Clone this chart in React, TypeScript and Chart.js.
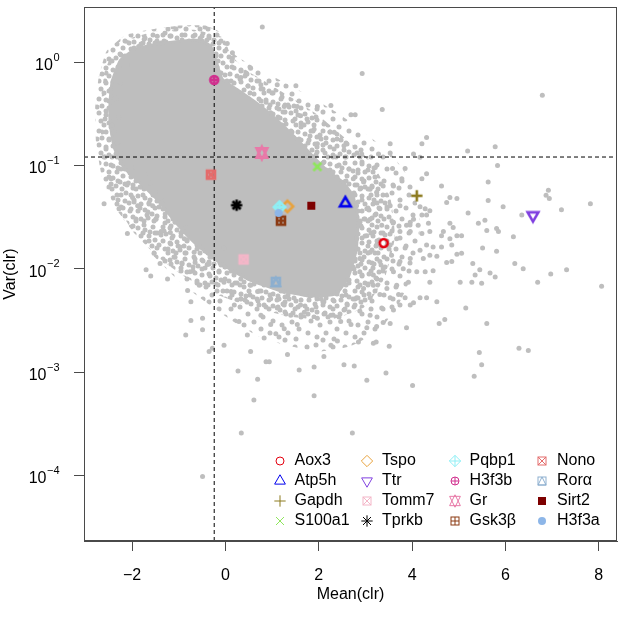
import React, { useEffect, useRef } from "react";
import { Chart, registerables } from "chart.js";

Chart.register(...registerables);

const FONT = '"Liberation Sans", Arial, Helvetica, sans-serif';

// ---- axes ----
const xTicks = [-2, 0, 2, 4, 6, 8];
const yTicks = [1e-4, 1e-3, 1e-2, 1e-1, 1];
const xMin = -3.03;
const xMax = 8.39;
const yMin = 2.32e-5;
const yMax = 3.41;
const xTitle = "Mean(clr)";
const yTitle = "Var(clr)";

// ---- threshold lines ----
const meanCut = -0.24;
const varCut = 0.1205;

// ---- highlighted genes ----
const genes = ["Aox3", "Atp5h", "Gapdh", "S100a1", "Tspo", "Ttr", "Tomm7", "Tprkb", "Pqbp1", "H3f3b", "Gr", "Gsk3β", "Nono", "Rorα", "Sirt2", "H3f3a"];
const geneMean = [3.39, 2.57, 4.1, 1.97, 1.33, 6.59, 0.39, 0.24, 1.16, -0.24, 0.78, 1.19, -0.31, 1.08, 1.84, 1.14];
const geneVar = [0.0177, 0.0431, 0.0508, 0.0971, 0.0401, 0.0328, 0.0123, 0.0412, 0.0395, 0.671, 0.132, 0.0292, 0.0814, 0.00745, 0.0407, 0.0346];
const geneColors = ["#E3000F", "#0000EE", "#8C7A1E", "#8EE65C", "#E8A23C", "#8040E0", "#F4B6C8", "#000000", "#8EEFF5", "#D12F8E", "#E879A8", "#8B3A13", "#E46C6C", "#8DAFCF", "#7D0000", "#8DB6E8"];
const geneShapes = ["circle", "triUp", "plus", "cross", "diamond", "triDown", "squareX", "asterisk", "diamondPlus", "circlePlus", "starDavid", "squarePlus", "squareX", "squareTri", "squareFill", "circleFill"];

// ---- background genes: [mean(clr), log10 var(clr)] ----
// outline of the solid, densest part of the cloud
const coreOutline: [number, number][] = [
  [-2.43, -0.186], [-2.25, 0.016], [-1.93, 0.122], [-1.5, 0.17], [-1.01, 0.199], [-0.58, 0.209], [-0.33, 0.161], [-0.2, 0.007], [-0.07, -0.166], [0.27, -0.272],
  [0.64, -0.388], [0.96, -0.503], [1.26, -0.628], [1.56, -0.763], [1.86, -0.907], [2.16, -1.041], [2.5, -1.157], [2.73, -1.291], [2.84, -1.532], [2.8, -1.82],
  [2.63, -2.08], [2.37, -2.243], [1.81, -2.263], [1.13, -2.205], [0.53, -2.109], [0.06, -1.993], [-0.37, -1.859], [-0.76, -1.705], [-1.1, -1.532], [-1.44, -1.339],
  [-1.83, -1.166], [-2.17, -1.022], [-2.38, -0.83], [-2.47, -0.589], [-2.47, -0.368], [-2.43, -0.186],
];

// outline of the densely speckled ring around the core
const innerHaloOutline: [number, number][] = [
  [-2.72, -0.157], [-2.55, 0.103], [-2.15, 0.257], [-1.61, 0.314], [-0.97, 0.353], [-0.43, 0.353], [-0.07, 0.276], [0.1, 0.084], [0.42, -0.07], [0.91, -0.205],
  [1.43, -0.349], [1.98, -0.513], [2.56, -0.734], [3.14, -0.974], [3.53, -1.311], [3.63, -1.695], [3.42, -2.08], [2.99, -2.368], [2.24, -2.493], [1.39, -2.464],
  [0.53, -2.368], [-0.22, -2.243], [-0.86, -2.08], [-1.44, -1.888], [-1.93, -1.666], [-2.36, -1.407], [-2.64, -1.118], [-2.77, -0.782], [-2.79, -0.445], [-2.72, -0.157],
];

// outline of the sparser, medium-density part of the cloud
const outerHaloOutline: [number, number][] = [
  [-2.6, -0.11], [-2.43, 0.08], [-2.04, 0.23], [-1.4, 0.3], [-0.65, 0.31], [-0.07, 0.24], [0.23, 0.06], [0.7, -0.07], [1.28, -0.2], [1.92, -0.36],
  [2.46, -0.51], [2.93, -0.67], [3.53, -0.88], [4.0, -1.17], [4.17, -1.55], [4.06, -1.98], [3.74, -2.32], [3.31, -2.59], [2.67, -2.75], [2.03, -2.8],
  [1.39, -2.75], [0.74, -2.66], [0.1, -2.49], [-0.43, -2.32], [-0.97, -2.13], [-1.51, -1.89], [-1.93, -1.67], [-2.3, -1.41], [-2.55, -1.12], [-2.66, -0.73],
  [-2.66, -0.4], [-2.6, -0.11],
];

const bgUpper: [number, number][] = [
  [0.79, 0.34], [0.04, 0.18], [0.15, 0.09], [0.15, 0.04], [0.54, -0.06], [0.44, -0.11], [0.33, -0.15], [0.76, -0.22], [1.11, -0.22], [1.51, -0.23],
  [0.87, -0.39], [1.26, -0.43], [1.54, -0.43], [1.97, -0.43], [2.26, -0.42], [0.97, -0.49], [1.61, -0.52], [1.9, -0.65], [2.33, -0.68], [2.69, -0.51],
  [2.54, -0.81], [1.97, -0.79], [-1.46, 0.25], [-1.74, 0.22], [-2.17, -0.04], [-2.35, -0.36], [-2.45, -0.52], [-2.38, -0.68], [-2.31, -0.78],
  [-0.69, 0.25], [-0.54, 0.23], [-0.4, 0.21], [-1.86, 0.15], [-2.25, -0.2], [-2.36, -0.35], [-2.43, -0.61], [-2.11, -0.03], [-2.29, -0.54],
];

const bgLowerLeft: [number, number][] = [
  [-2.45, -1.13], [-2.45, -1.18], [-2.6, -1.37], [-2.28, -1.42], [-1.99, -1.31], [-1.88, -1.39], [-2.1, -1.66], [-1.56, -1.39], [-1.49, -1.52], [-1.38, -1.64],
  [-1.53, -1.85], [-1.17, -1.76], [-1.7, -2.01], [-0.88, -1.71], [-0.67, -1.84], [-0.39, -1.96], [-0.03, -1.8],
  [-2.25, -0.88], [-2.15, -0.97], [-1.93, -1.02], [-1.72, -1.09], [-1.61, -1.17], [-2.08, -1.17], [-1.83, -1.21], [-1.51, -1.26], [-1.29, -1.34],
  [-1.66, -1.45], [-1.29, -1.47], [-1.08, -1.55], [-1.18, -1.65], [-0.86, -1.6], [-0.97, -1.79], [-0.54, -1.79], [-0.33, -1.89], [-0.65, -1.94],
  [-0.01, -1.98], [0.21, -2.03], [-1.08, -1.89], [-1.4, -1.95], [-0.76, -2.03],
  [-1.6, -2.07], [-1.24, -2.1], [-0.81, -2.21], [-0.56, -2.16], [-0.74, -2.32], [-0.49, -2.48], [-0.74, -2.5], [-0.85, -2.64], [-0.49, -2.59],
  [-0.35, -2.8], [-0.28, -2.77], [-0.03, -2.74], [0.12, -2.22], [0.19, -2.35], [0.29, -2.51], [0.47, -2.64], [0.54, -2.8], [0.87, -2.9], [0.94, -2.9],
  [0.27, -2.99], [0.69, -3.07], [0.61, -3.27], [0.34, -3.59], [-0.49, -4.01],
];

const bgCentre: [number, number][] = [
  [1.33, -2.83], [1.58, -2.98], [1.9, -2.95], [2.11, -2.85], [1.9, -3.23], [0.83, -2.67], [1.08, -2.63], [1.26, -2.58], [1.54, -2.54], [0.97, -2.54],
  [0.76, -2.45], [1.11, -2.38], [1.4, -2.45], [1.69, -2.42], [1.97, -2.48], [2.26, -2.45], [2.47, -2.51], [2.69, -2.54], [2.4, -2.7], [2.54, -2.93],
  [2.26, -2.74], [2.72, -3.59], [-0.03, -2.13], [0.33, -2.1], [0.54, -2.16], [0.69, -2.22], [0.97, -2.29], [1.26, -2.22], [1.83, -2.26], [2.11, -2.32],
  [2.4, -2.22], [2.61, -2.35], [1.61, -2.35], [1.26, -2.35], [0.83, -2.35], [0.33, -2.29],
  [2.74, -1.13], [2.96, -1.16], [3.1, -1.23], [3.24, -1.26], [3.38, -1.2], [3.6, -1.2], [3.78, -1.13], [2.81, -1.39], [3.03, -1.42], [3.31, -1.42],
  [3.53, -1.39], [3.74, -1.39], [2.88, -1.55], [3.1, -1.52], [3.35, -1.58], [3.6, -1.55], [3.74, -1.64], [2.81, -1.71], [3.03, -1.68], [3.24, -1.77],
  [3.53, -1.77], [3.67, -1.71], [3.85, -1.8], [2.88, -1.9], [3.1, -1.84], [3.31, -1.93], [3.56, -1.87], [3.74, -1.93], [3.96, -1.9], [2.88, -2.03],
  [3.17, -2.06], [3.38, -2.0], [3.6, -2.03], [3.81, -2.0], [2.96, -2.19], [3.17, -2.16], [3.46, -2.19], [3.67, -2.16], [3.92, -2.13], [2.81, -2.28],
  [3.1, -2.28], [3.31, -2.25], [3.53, -2.28], [3.74, -2.35], [2.88, -2.41], [3.1, -2.45], [3.35, -2.38], [3.6, -2.4],
];

const bgRight: [number, number][] = [
  [2.93, -0.11], [6.79, -0.32], [2.78, -0.51], [3.36, -0.46], [3.53, -0.79], [4.31, -0.73], [4.21, -0.79], [5.19, -0.86], [5.78, -0.82], [2.92, -0.89],
  [3.28, -0.89], [3.53, -0.88], [4.03, -0.89], [4.17, -0.92], [5.83, -1.0], [3.21, -1.02], [3.58, -1.03], [3.85, -1.03], [4.31, -1.08], [4.21, -1.13],
  [5.63, -1.16], [4.63, -1.2], [6.92, -1.24], [6.87, -1.29], [6.94, -1.32], [4.81, -1.31], [4.96, -1.32], [4.74, -1.36], [5.63, -1.34], [5.95, -1.4],
  [7.2, -1.43], [7.82, -1.37], [6.35, -1.48], [5.2, -1.46], [4.38, -1.44], [4.28, -1.42], [4.17, -1.4], [5.42, -1.56], [5.56, -1.53], [5.6, -1.63],
  [5.81, -1.61], [5.85, -1.64], [6.17, -1.69], [4.81, -1.56], [4.88, -1.6], [4.67, -1.64], [4.63, -1.68], [4.96, -1.68], [5.06, -1.68], [5.51, -1.8],
  [5.81, -1.83], [4.81, -1.71], [4.85, -1.77], [5.06, -1.85], [4.96, -1.86], [4.74, -1.94], [4.85, -1.93], [5.3, -1.95], [6.2, -1.95], [6.38, -2.0],
  [7.31, -2.01], [6.69, -2.13], [6.97, -2.05], [8.06, -2.17], [5.45, -2.01], [5.67, -2.04], [5.78, -2.08], [5.28, -2.13], [5.49, -2.14], [5.35, -2.06],
  [5.03, -2.13], [5.15, -2.38], [5.6, -2.53], [4.7, -2.49], [4.58, -2.53], [6.29, -2.77], [6.49, -2.79], [5.44, -2.81], [5.49, -2.93], [5.33, -3.04],
  [4.01, -3.13], [3.44, -3.01], [3.03, -3.08], [2.76, -2.94], [3.51, -2.75], [3.23, -2.71], [3.88, -2.57], [3.03, -2.57], [3.24, -2.56], [3.38, -2.52],
  [3.53, -2.53], [2.85, -2.71], [3.17, -2.72], [4.53, -2.32], [4.31, -2.28], [4.17, -2.28], [4.03, -2.33], [3.96, -2.35], [3.85, -2.28], [3.71, -2.25],
  [4.38, -2.13], [4.45, -2.02], [4.28, -2.03], [4.1, -2.03], [4.53, -1.88], [4.38, -1.87], [4.24, -1.9], [4.63, -1.79], [4.45, -1.79], [4.31, -1.77],
  [4.17, -1.82], [4.38, -1.64], [4.21, -1.66], [3.96, -1.64], [4.35, -1.56], [4.13, -1.58], [3.96, -1.55], [4.31, -1.48], [4.21, -1.48], [4.03, -1.52],
  [3.88, -1.58],
];

// ---------------------------------------------------------------------------
const TRC0 = 1.555;
const TRC1 = 1.347;
const TRC2 = 0.778;

function makeMarker(shape: string, color: string, r: number, lw: number): HTMLCanvasElement {
  let size = Math.ceil(2 * (1.6 * r + lw) + 2);
  if (size % 2) size += 1;
  const c = document.createElement("canvas");
  c.width = size;
  c.height = size;
  const ctx = c.getContext("2d")!;
  ctx.translate(size / 2, size / 2);
  ctx.strokeStyle = color;
  ctx.fillStyle = color;
  ctx.lineWidth = lw;
  ctx.lineJoin = "miter";
  const line = (x1: number, y1: number, x2: number, y2: number) => {
    ctx.beginPath();
    ctx.moveTo(x1, y1);
    ctx.lineTo(x2, y2);
    ctx.stroke();
  };
  const poly = (pts: number[][]) => {
    ctx.beginPath();
    ctx.moveTo(pts[0][0], pts[0][1]);
    for (let i = 1; i < pts.length; i++) ctx.lineTo(pts[i][0], pts[i][1]);
    ctx.closePath();
    ctx.stroke();
  };
  const circ = () => {
    ctx.beginPath();
    ctx.arc(0, 0, r, 0, Math.PI * 2);
    ctx.stroke();
  };
  const sq = () => ctx.strokeRect(-r, -r, 2 * r, 2 * r);
  const plus = (a: number) => {
    line(-a, 0, a, 0);
    line(0, -a, 0, a);
  };
  const cross = (a: number) => {
    line(-a, -a, a, a);
    line(-a, a, a, -a);
  };
  const s2 = Math.SQRT2 * r;
  switch (shape) {
    case "circle":
      circ();
      break;
    case "triUp":
      poly([[0, -TRC0 * r], [TRC1 * r, TRC2 * r], [-TRC1 * r, TRC2 * r]]);
      break;
    case "triDown":
      poly([[0, TRC0 * r], [TRC1 * r, -TRC2 * r], [-TRC1 * r, -TRC2 * r]]);
      break;
    case "plus":
      plus(s2);
      break;
    case "cross":
      cross(r);
      break;
    case "diamond":
      poly([[0, -s2], [s2, 0], [0, s2], [-s2, 0]]);
      break;
    case "squareX":
      sq();
      cross(r);
      break;
    case "asterisk":
      cross(r);
      plus(s2);
      break;
    case "diamondPlus":
      poly([[0, -s2], [s2, 0], [0, s2], [-s2, 0]]);
      plus(s2);
      break;
    case "circlePlus":
      circ();
      plus(r);
      break;
    case "starDavid": {
      const rr = TRC0 * r;
      const yc = 0.5 * (TRC2 * r + rr);
      const xc = TRC1 * r;
      poly([[0, -rr], [xc, yc], [-xc, yc]]);
      poly([[0, rr], [xc, -yc], [-xc, -yc]]);
      break;
    }
    case "squarePlus":
      sq();
      plus(r);
      break;
    case "squareTri":
      sq();
      poly([[0, -r], [r, r], [-r, r]]);
      break;
    case "squareFill":
      ctx.fillRect(-r, -r, 2 * r, 2 * r);
      break;
    case "circleFill":
      ctx.beginPath();
      ctx.arc(0, 0, r, 0, Math.PI * 2);
      ctx.fill();
      break;
  }
  return c;
}

// speckle textures for the cloud's density bands (styling only)
const outerSpeckle = [
  [3, 5], [12, 3], [20, 10], [29, 5], [35, 13], [7, 17], [16, 21], [26, 18], [33, 25], [4, 29], [13, 33], [22, 29], [30, 35], [19, 36],
];
const innerSpeckle = [
  [3, 3], [10, 4], [17, 6], [25, 3], [29, 9], [6, 10], [13, 12], [21, 12], [27, 16], [3, 17], [10, 19], [17, 18], [24, 22], [29, 24],
  [5, 25], [13, 27], [20, 26], [26, 29], [8, 29], [16, 29], [22, 8], [1, 11],
];
function makeSpeckle(color: string, dots: number[][], size: number): CanvasPattern | string {
  const t = document.createElement("canvas");
  t.width = size;
  t.height = size;
  const c = t.getContext("2d")!;
  c.fillStyle = color;
  for (const [x, y] of dots) {
    for (const dx of [-size, 0, size]) {
      for (const dy of [-size, 0, size]) {
        c.beginPath();
        c.arc(x + dx, y + dy, 2.5, 0, Math.PI * 2);
        c.fill();
      }
    }
  }
  const p = c.createPattern(t, "repeat");
  return p || color;
}

const toXY = (arr: [number, number][]) => arr.map(([m, lv]) => ({ x: m, y: Math.pow(10, lv) }));

export default function App() {
  const ref = useRef<HTMLCanvasElement | null>(null);

  useEffect(() => {
    const canvas = ref.current;
    if (!canvas) return;

    const plotMarkers = genes.map((_, i) => makeMarker(geneShapes[i], geneColors[i], 4, 2.6));
    const legendMarkers = genes.map((_, i) => makeMarker(geneShapes[i], geneColors[i], 4, 1));
    const gray = "#BEBEBE";
    const axisColor = "#4a4a4a";
    const outerPattern = makeSpeckle(gray, outerSpeckle, 38);
    const innerPattern = makeSpeckle(gray, innerSpeckle, 32);

    const overlay = {
      id: "overlay",
      afterDraw(chart: any) {
        const { ctx, chartArea } = chart;
        ctx.save();
        ctx.strokeStyle = axisColor;
        ctx.lineWidth = 1;
        ctx.strokeRect(chartArea.left + 0.5, chartArea.top + 0.5, chartArea.right - chartArea.left - 1, chartArea.bottom - chartArea.top - 1);
        const ys = chart.scales.y;
        ctx.fillStyle = "#000";
        ctx.textBaseline = "alphabetic";
        ctx.textAlign = "left";
        const right = chartArea.left - 24.5;
        for (const v of yTicks) {
          const py = ys.getPixelForValue(v);
          const e = Math.round(Math.log10(v));
          const expText = e === 0 ? "0" : "\u2212" + Math.abs(e);
          ctx.font = `11px ${FONT}`;
          const ew = ctx.measureText(expText).width;
          ctx.font = `16px ${FONT}`;
          const bw = ctx.measureText("10").width;
          ctx.fillText("10", right - ew - bw - 0.5, py + 8);
          ctx.font = `11px ${FONT}`;
          ctx.fillText(expText, right - ew, py - 1.5);
        }
        const x0 = chartArea.right - 337.5;
        const y0 = chartArea.bottom - 80;
        const colW = 87.5;
        const rowH = 20;
        ctx.font = `16px ${FONT}`;
        ctx.textBaseline = "middle";
        genes.forEach((g, i) => {
          const col = Math.floor(i / 4);
          const row = i % 4;
          const cx = x0 + col * colW;
          const cy = y0 + row * rowH;
          const m = legendMarkers[i];
          ctx.drawImage(m, Math.round(cx - m.width / 2), Math.round(cy - m.height / 2));
          ctx.fillStyle = "#000";
          ctx.fillText(g, cx + 15, cy);
        });
        ctx.restore();
      },
    };

    const region = (label: string, outline: [number, number][], fillStyle: any, order: number, bw: number) =>
      ({
        type: "line",
        label,
        data: toXY(outline),
        borderColor: bw > 0 ? fillStyle : "rgba(0,0,0,0)",
        backgroundColor: fillStyle,
        borderWidth: bw,
        pointRadius: 0,
        tension: 0.15,
        fill: "shape",
        order,
      }) as any;

    const chart = new Chart(canvas, {
      type: "scatter",
      data: {
        datasets: [
          {
            label: "genes",
            data: genes.map((_, i) => ({ x: geneMean[i], y: geneVar[i] })),
            pointStyle: plotMarkers as any,
            pointRadius: 6,
            order: 0,
          } as any,
          {
            type: "line",
            label: "varCut",
            data: [{ x: xMin, y: varCut }, { x: xMax, y: varCut }],
            borderColor: "#000",
            borderWidth: 1,
            borderDash: [4, 3],
            pointRadius: 0,
            fill: false,
            order: 1,
          } as any,
          {
            type: "line",
            label: "meanCut",
            data: [{ x: meanCut, y: yMin }, { x: meanCut, y: yMax }],
            borderColor: "#000",
            borderWidth: 1,
            borderDash: [4, 3],
            pointRadius: 0,
            fill: false,
            order: 1,
          } as any,
          {
            label: "bg",
            data: [...toXY(bgUpper), ...toXY(bgLowerLeft), ...toXY(bgCentre), ...toXY(bgRight)],
            backgroundColor: gray,
            borderWidth: 0,
            pointRadius: 2.5,
            order: 2,
          } as any,
          region("core", coreOutline, gray, 3, 3),
          region("innerHalo", innerHaloOutline, innerPattern, 4, 0),
          region("outerHalo", outerHaloOutline, outerPattern, 5, 0),
        ],
      },
      options: {
        animation: false,
        responsive: true,
        maintainAspectRatio: false,
        devicePixelRatio: 1,
        layout: { padding: { top: 3, right: 8, left: 0, bottom: 0 } },
        plugins: {
          legend: { display: false },
          tooltip: { enabled: false },
        },
        events: [],
        scales: {
          x: {
            type: "linear",
            min: xMin,
            max: xMax,
            afterBuildTicks: (axis: any) => {
              axis.ticks = xTicks.map((v) => ({ value: v }));
            },
            afterFit: (s: any) => {
              s.height = 87;
            },
            grid: { display: true, drawOnChartArea: false, drawTicks: true, tickLength: 10, color: axisColor, lineWidth: 1 },
            border: { display: true, color: axisColor, width: 1 },
            ticks: {
              padding: 15,
              color: "#000",
              maxRotation: 0,
              autoSkip: false,
              font: { family: FONT, size: 16 },
              callback: (v: any) => (Number(v) < 0 ? "\u2212" + Math.abs(Number(v)) : String(v)),
            },
            title: { display: true, text: xTitle, color: "#000", font: { family: FONT, size: 16 }, padding: { top: 0, bottom: 24 } },
          },
          y: {
            type: "logarithmic",
            min: yMin,
            max: yMax,
            afterBuildTicks: (axis: any) => {
              axis.ticks = yTicks.map((v) => ({ value: v }));
            },
            afterFit: (s: any) => {
              s.width = 84;
            },
            grid: { display: true, drawOnChartArea: false, drawTicks: true, tickLength: 10, color: axisColor, lineWidth: 1 },
            border: { display: true, color: axisColor, width: 1 },
            ticks: { display: false },
            title: { display: true, text: yTitle, color: "#000", font: { family: FONT, size: 16 }, padding: { top: 1, bottom: 0 } },
          },
        },
      },
      plugins: [overlay],
    } as any);

    return () => chart.destroy();
  }, []);

  return (
    <div style={{ position: "fixed", left: 0, top: 0, width: 625, height: 628, background: "#fff" }}>
      <canvas ref={ref} width={625} height={628} />
    </div>
  );
}
